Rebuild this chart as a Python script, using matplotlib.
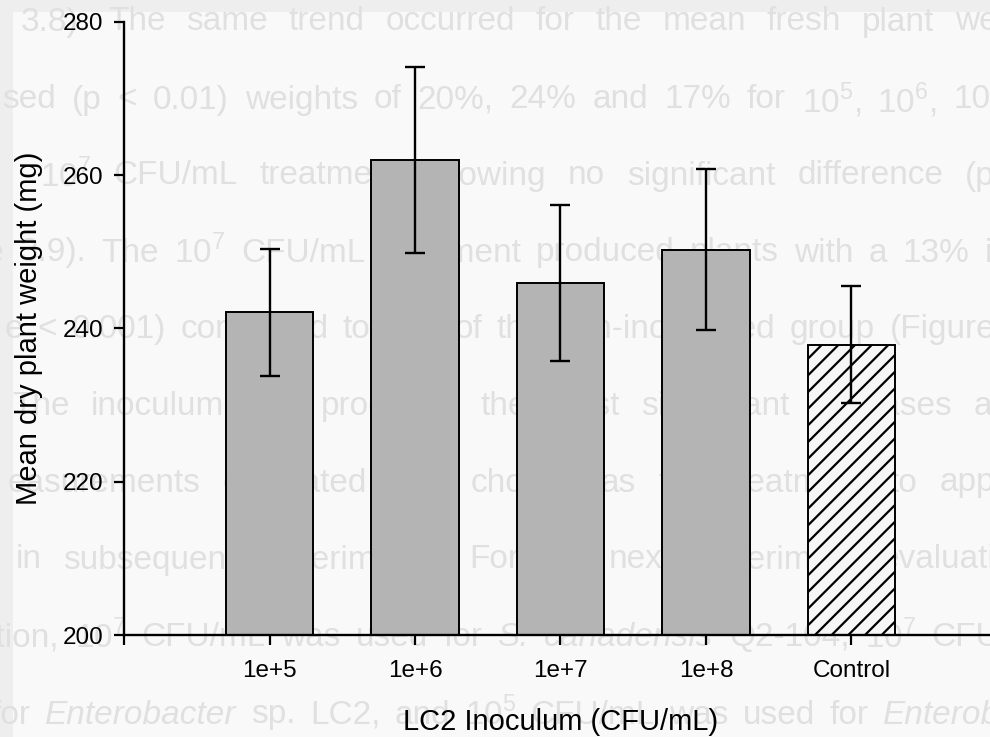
import matplotlib
matplotlib.use('Agg')
import matplotlib.pyplot as plt
from matplotlib.patches import Rectangle

plt.rcParams['font.family'] = ['Liberation Sans', 'DejaVu Sans']
plt.rcParams['mathtext.fontset'] = 'custom'
plt.rcParams['mathtext.rm'] = 'Liberation Sans'
plt.rcParams['hatch.linewidth'] = 1.6

W, H = 990, 737

# treatments and mean dry weight (mg) with error bars
labels = ['1e+5', '1e+6', '1e+7', '1e+8', 'Control']
means = [242.1, 262.0, 245.9, 250.3, 237.9]
errs = [8.3, 12.1, 10.2, 10.5, 7.6]

# faint text from the page behind: (words, left px, right px, y px)
page_lines = [
    ('re 3.8). The same trend occurred for the mean fresh plant wei', -30, 1005, 22),
    ('sed (p < 0.01) weights of 20%, 24% and 17% for 10$^5$, 10$^6$, 10', 2, 990, 100),
    ('10$^7$ CFU/mL treatment showing no significant difference (p', 40, 995, 176),
    ('re 3.9). The 10$^7$ CFU/mL treatment produced plants with a 13% i', -25, 992, 253),
    ('e < 0.001) compared to that of the non-inoculated group (Figure', 5, 995, 330),
    ('The inoculum that produced the most significant increases a', 12, 992, 406),
    ('easurements evaluated was chosen as the treatment to app', 8, 995, 483),
    ('in subsequent experiments. For the next experiment evaluati', 16, 995, 560),
    ('ation, 10$^7$ CFU/mL was used for S. canadensis Q2-104, 10$^7$ CFU', -22, 1000, 638),
    ('for Enterobacter sp. LC2, and 10$^5$ CFU/mL was used for Enterob', -8, 1000, 715),
]
italic_words = {'S.', 'canadensis', 'Enterobacter', 'Enterob'}


def justify(fig, line, x0, x1, y):
    renderer = fig.canvas.get_renderer()
    words = line.split()
    texts = []
    for w in words:
        t = fig.text(0, 1 - y / H, w, fontsize=24, color='#e0e0e0', va='center',
                     style='italic' if w in italic_words else 'normal', zorder=-1)
        texts.append(t)
    widths = [t.get_window_extent(renderer).width for t in texts]
    gap = (x1 - x0 - sum(widths)) / max(len(words) - 1, 1)
    x = x0
    for t, w in zip(texts, widths):
        t.set_x(x / W)
        x += w + gap


fig = plt.figure(figsize=(W / 100, H / 100), dpi=100, facecolor='#f9f9f9')

# scanner edge bands
fig.add_artist(Rectangle((0, 1 - 12 / H), 1, 12 / H, transform=fig.transFigure,
                         color='#eeeeee', lw=0, zorder=-2))
fig.add_artist(Rectangle((0, 0), 13 / W, 1, transform=fig.transFigure,
                         color='#eeeeee', lw=0, zorder=-2))

for line, x0, x1, y in page_lines:
    justify(fig, line, x0, x1, y)

ax = fig.add_axes([124 / W, 102 / H, 873 / W, 613 / H])
ax.patch.set_visible(False)

x = list(range(1, len(labels) + 1))
bars = ax.bar(x, [m - 200 for m in means], bottom=200, width=0.6,
              color='#b4b4b4', edgecolor='black', linewidth=1.4, zorder=2)
bars[-1].set_facecolor('#f6f6f6')
bars[-1].set_hatch('//')
ax.errorbar(x, means, yerr=errs, fmt='none', ecolor='black', elinewidth=1.7,
            capsize=7.2, capthick=1.7, zorder=3)

ax.set_xlim(0, 6)
ax.set_ylim(200, 280)
ax.set_yticks([200, 220, 240, 260, 280])
ax.set_xticks([0] + x)
ax.set_xticklabels([''] + labels)
ax.spines['top'].set_visible(False)
ax.spines['right'].set_visible(False)
ax.spines['left'].set_linewidth(1.7)
ax.spines['bottom'].set_linewidth(1.7)
ax.tick_params(length=7, width=1.6, labelsize=17.5, color='black')
ax.tick_params(axis='x', pad=11)
ax.tick_params(axis='y', pad=8)

ax.set_xlabel('LC2 Inoculum (CFU/mL)', fontsize=21, labelpad=19)
ax.set_ylabel('Mean dry plant weight (mg)', fontsize=21, labelpad=14)

fig.savefig('out.png', dpi=100, facecolor=fig.get_facecolor())
